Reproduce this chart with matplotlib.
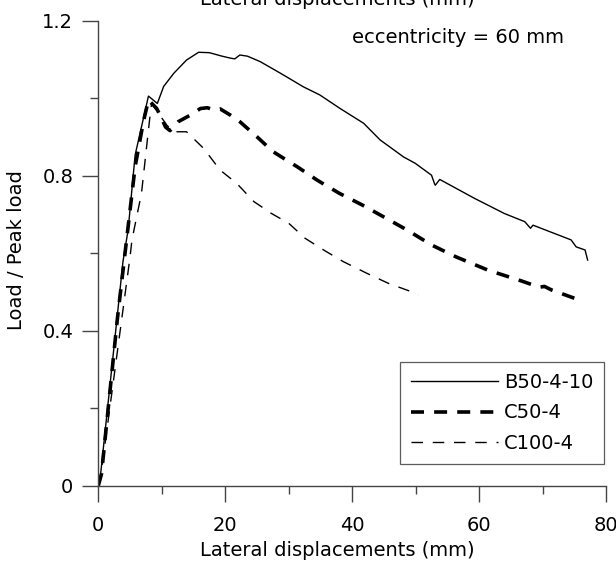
import numpy as np
import matplotlib.pyplot as plt
from matplotlib.ticker import MultipleLocator

# ==========================================================
# Data
# ==========================================================

b50_x = [0, 0.3, 3.9, 4.7, 5.8, 7.9, 9.3, 10.3, 11.9, 13.9, 15.8, 17.5, 19.5,
         20.8, 21.5, 22.3, 23.5, 25.5, 28.7, 32.3, 34.9, 38.1, 41.8, 44.4,
         48.1, 49.9, 52.5, 53.0, 53.1, 53.8, 59.3, 64.0, 67.2, 68.1, 68.5,
         74.5, 75.3, 76.7, 77.1]
b50_y = [0, 0.02, 0.58, 0.66, 0.853, 1.005, 0.986, 1.03, 1.064, 1.098, 1.118,
         1.117, 1.108, 1.103, 1.101, 1.111, 1.108, 1.094, 1.064, 1.029, 1.008,
         0.973, 0.935, 0.892, 0.848, 0.832, 0.801, 0.778, 0.775, 0.79, 0.741,
         0.702, 0.681, 0.664, 0.672, 0.634, 0.616, 0.608, 0.582]

c50_x = [0, 0.5, 3.0, 5.8, 7.1, 7.9, 9.2, 9.9, 10.6, 11.3, 12.6, 14.5, 16.1,
         17.2, 18.2, 19.2, 20.8, 22.3, 25.0, 27.5, 31.5, 34.5, 38.0, 41.6,
         44.9, 48.6, 51.7, 52.5, 56.4, 61.4, 66.7, 69.5, 70.3, 71.4, 75.1, 76.1]
c50_y = [0, 0.03, 0.43, 0.823, 0.939, 0.995, 0.973, 0.95, 0.925, 0.916, 0.939,
         0.956, 0.973, 0.975, 0.969, 0.972, 0.956, 0.939, 0.9, 0.862, 0.821,
         0.788, 0.754, 0.724, 0.694, 0.66, 0.629, 0.621, 0.59, 0.556, 0.528,
         0.512, 0.514, 0.505, 0.483, 0.479]

c100_x = [0, 0.5, 5.0, 5.3, 6.8, 8.1, 8.4, 9.5, 10.8, 11.8, 13.9, 16.6, 19.2,
          21.8, 24.5, 27.3, 30.0, 32.6, 35.5, 38.6, 42.3, 45.7, 49.4, 50.4]
c100_y = [0, 0.04, 0.59, 0.634, 0.754, 0.947, 0.986, 0.96, 0.93, 0.913, 0.913,
          0.87, 0.814, 0.78, 0.733, 0.702, 0.677, 0.638, 0.608, 0.578, 0.548,
          0.522, 0.5, 0.492]

labels = ['B50-4-10', 'C50-4', 'C100-4']
xticks = [0, 20, 40, 60, 80]
yticks = [0, 0.4, 0.8, 1.2]

# ==========================================================
# Plot style
# ==========================================================

plt.rcParams.update({
    "font.family": "DejaVu Sans",
    "font.size": 14,
})

fig = plt.figure(figsize=(6.16, 5.65), dpi=100)
ax = fig.add_axes([0.1596, 0.1404, 0.8242, 0.8233])

ax.plot(b50_x, b50_y, color='black', lw=1.0, label=labels[0])
ax.plot(c50_x, c50_y, color='black', lw=2.6, dashes=(3.6, 2.8), label=labels[1])
ax.plot(c100_x, c100_y, color='black', lw=1.0, dashes=(8.3, 7.0), label=labels[2])

ax.set_xlim(0, 80)
ax.set_ylim(0, 1.2)
ax.set_xticks(xticks)
ax.set_xticklabels([str(v) for v in xticks])
ax.set_yticks(yticks)
ax.set_yticklabels(['0', '0.4', '0.8', '1.2'])
ax.xaxis.set_minor_locator(MultipleLocator(10))
ax.yaxis.set_minor_locator(MultipleLocator(0.2))

for s in ['top', 'right']:
    ax.spines[s].set_visible(False)
for s in ['left', 'bottom']:
    ax.spines[s].set_color('#444444')
    ax.spines[s].set_linewidth(1.0)

ax.tick_params(which='major', direction='out', length=11.5, width=1.0,
               color='#444444', labelsize=14)
ax.tick_params(which='minor', direction='out', length=5.8, width=1.0,
               color='#444444')
ax.tick_params(axis='x', which='major', pad=10.5)
ax.tick_params(axis='y', which='major', pad=6.5)

ax.set_xlabel("Lateral displacements (mm)", fontsize=14, va='top')
ax.xaxis.set_label_coords(0.47, -0.119)

# y label placed in figure pixels
fig.text(7.5 / 616, (565 - 250.5) / 565, "Load / Peak load", fontsize=14,
         rotation=90, ha='left', va='center')

# top title, cut by the figure edge as in the reference
fig.text(337 / 616, 560 / 565, "Lateral displacements (mm)", fontsize=14,
         ha='center', va='baseline')

ax.text(0.7085, 0.9516, "eccentricity = 60 mm", transform=ax.transAxes,
        fontsize=14, ha='center', va='baseline')

leg = ax.legend(loc='lower right', bbox_to_anchor=(0.996, 0.047),
                frameon=True, fancybox=False, handlelength=4.5,
                handletextpad=0.3, labelspacing=0.6, borderpad=0.55,
                fontsize=14, borderaxespad=0)
leg.get_frame().set_edgecolor('#333333')
leg.get_frame().set_linewidth(0.9)

fig.savefig("out.png", dpi=100)
